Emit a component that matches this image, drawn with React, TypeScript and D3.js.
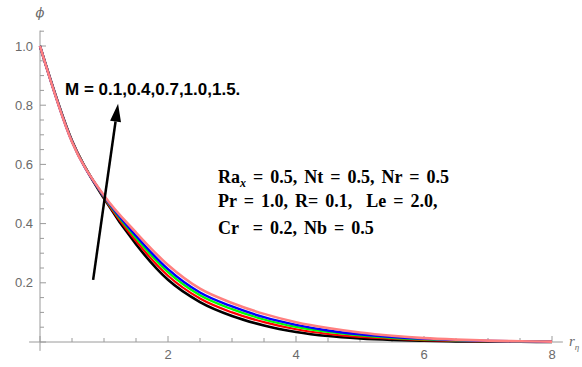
import * as d3 from 'd3';
import React, { useEffect, useRef } from 'react';

const xs = [0, 0.5, 1, 1.5, 2, 2.5, 3, 3.5, 4, 4.5, 5, 5.5, 6, 6.5, 7, 7.5, 8];

// phi profiles for M = 0.1, 0.4, 0.7, 1.0, 1.5
const phiM01 = [1, 0.68, 0.485, 0.33, 0.21, 0.135, 0.088, 0.056, 0.034, 0.02, 0.012, 0.007, 0.004, 0.0022, 0.0012, 0.0006, 0.0003];
const phiM04 = [1, 0.679, 0.488, 0.341, 0.224, 0.147, 0.1, 0.067, 0.043, 0.027, 0.017, 0.011, 0.0064, 0.0038, 0.0021, 0.0011, 0.0005];
const phiM07 = [1, 0.678, 0.49, 0.351, 0.236, 0.158, 0.111, 0.076, 0.051, 0.034, 0.022, 0.014, 0.0087, 0.0052, 0.0029, 0.0016, 0.0008];
const phiM10 = [1, 0.677, 0.492, 0.359, 0.246, 0.167, 0.12, 0.084, 0.058, 0.039, 0.026, 0.017, 0.0105, 0.0064, 0.0036, 0.002, 0.001];
const phiM15 = [1, 0.676, 0.495, 0.37, 0.26, 0.18, 0.132, 0.095, 0.067, 0.047, 0.032, 0.021, 0.013, 0.008, 0.0045, 0.0025, 0.0012];

const seriesList = [
    { values: phiM01, color: '#000000', width: 2.6 },
    { values: phiM04, color: '#ff0000', width: 2.2 },
    { values: phiM07, color: '#00ff00', width: 2.2 },
    { values: phiM10, color: '#0000ff', width: 2.4 },
    { values: phiM15, color: '#ff8080', width: 2.6 },
];

const xTicks = [2, 4, 6, 8];
const yTicks = [0.2, 0.4, 0.6, 0.8, 1.0];

// arrow annotation (data coords): tail -> head
const arrowFrom = [0.83, 0.21];
const arrowTo = [1.22, 0.805];

const paramLines = [
    ['Ra', 'x', ' = 0.5, Nt = 0.5, Nr = 0.5'],
    ['Pr = 1.0, R= 0.1,  Le = 2.0,', '', ''],
    ['Cr  = 0.2, Nb = 0.5', '', ''],
];

const W = 582;
const H = 367;

const App = () => {
    const ref = useRef(null);

    useEffect(() => {
        const svg = d3.select(ref.current);
        svg.selectAll('*').remove();

        const x = d3.scaleLinear().domain([0, 8]).range([40, 552]);
        const y = d3.scaleLinear().domain([0, 1]).range([342, 46]);
        const axisColor = '#9a9a9a';
        const labelColor = '#6a6a6a';

        // axes
        svg.append('line')
            .attr('x1', x(-0.17)).attr('x2', x(8.17))
            .attr('y1', y(0)).attr('y2', y(0))
            .attr('stroke', axisColor).attr('stroke-width', 1);
        svg.append('line')
            .attr('x1', x(0)).attr('x2', x(0))
            .attr('y1', y(1.052)).attr('y2', y(-0.03))
            .attr('stroke', axisColor).attr('stroke-width', 1);

        // x ticks (inward, up)
        d3.range(0, 8.01, 0.5).forEach((v) => {
            const major = Math.abs(v % 2) < 1e-6;
            svg.append('line')
                .attr('x1', x(v)).attr('x2', x(v))
                .attr('y1', y(0)).attr('y2', y(0) - (major ? 6 : 4))
                .attr('stroke', axisColor);
        });
        // y ticks (inward, right)
        d3.range(0, 1.051, 0.05).forEach((v) => {
            const major = Math.abs((v * 100) % 20) < 1e-4 || Math.abs((v * 100) % 20 - 20) < 1e-4;
            svg.append('line')
                .attr('x1', x(0)).attr('x2', x(0) + (major ? 6 : 4))
                .attr('y1', y(v)).attr('y2', y(v))
                .attr('stroke', axisColor);
        });

        svg.selectAll('.xlab')
            .data(xTicks)
            .enter().append('text')
            .attr('x', (d) => x(d))
            .attr('y', y(0) + 17)
            .attr('text-anchor', 'middle')
            .attr('font-family', 'Liberation Sans, Arial, sans-serif')
            .attr('font-size', 13)
            .attr('fill', labelColor)
            .text((d) => d);

        svg.selectAll('.ylab')
            .data(yTicks)
            .enter().append('text')
            .attr('x', x(0) - 7)
            .attr('y', (d) => y(d) + 4.5)
            .attr('text-anchor', 'end')
            .attr('font-family', 'Liberation Sans, Arial, sans-serif')
            .attr('font-size', 13)
            .attr('fill', labelColor)
            .text((d) => d.toFixed(1));

        // axis names
        svg.append('text')
            .attr('x', x(0)).attr('y', 17)
            .attr('text-anchor', 'middle')
            .attr('font-family', 'DejaVu Serif, serif')
            .attr('font-style', 'italic')
            .attr('font-size', 13)
            .attr('fill', labelColor)
            .text('ϕ');
        const rl = svg.append('text')
            .attr('x', 569).attr('y', 346)
            .attr('font-family', 'Liberation Serif, serif')
            .attr('font-style', 'italic')
            .attr('font-size', 15)
            .attr('fill', labelColor);
        rl.append('tspan').text('r');
        rl.append('tspan').attr('dy', 4).attr('font-size', 9).text('η');

        // curves
        const line = d3.line()
            .x((d) => x(d[0]))
            .y((d) => y(d[1]))
            .curve(d3.curveMonotoneX);
        seriesList.forEach((s) => {
            svg.append('path')
                .datum(xs.map((v, i) => [v, s.values[i]]))
                .attr('fill', 'none')
                .attr('stroke', s.color)
                .attr('stroke-width', s.width)
                .attr('d', line);
        });

        // arrow
        const x1 = x(arrowFrom[0]), y1 = y(arrowFrom[1]);
        const x2 = x(arrowTo[0]), y2 = y(arrowTo[1]);
        const ang = Math.atan2(y2 - y1, x2 - x1);
        const headLen = 18, headW = 5.5;
        const bx = x2 - headLen * Math.cos(ang), by = y2 - headLen * Math.sin(ang);
        svg.append('line')
            .attr('x1', x1).attr('y1', y1).attr('x2', bx).attr('y2', by)
            .attr('stroke', '#000').attr('stroke-width', 2.5);
        svg.append('path')
            .attr('d', `M${x2},${y2} L${bx + headW * Math.sin(ang)},${by - headW * Math.cos(ang)} L${bx - headW * Math.sin(ang)},${by + headW * Math.cos(ang)} Z`)
            .attr('fill', '#000');

        // M label
        svg.append('text')
            .attr('x', 65).attr('y', 95)
            .attr('font-family', 'Liberation Sans, Arial, sans-serif')
            .attr('font-weight', 'bold')
            .attr('font-size', 17)
            .attr('fill', '#000')
            .text('M = 0.1,0.4,0.7,1.0,1.5.');

        // parameter block
        const baselines = [183, 207, 234];
        paramLines.forEach((ln, i) => {
            const t = svg.append('text')
                .attr('x', 218).attr('y', baselines[i])
                .attr('font-family', 'Liberation Serif, Times New Roman, serif')
                .attr('font-weight', 'bold')
                .attr('font-size', 18)
                .attr('word-spacing', 2.5)
                .style('white-space', 'pre')
                .attr('fill', '#000');
            t.append('tspan').text(ln[0]);
            if (ln[1]) {
                t.append('tspan').attr('dy', 4).attr('font-size', 12).attr('font-style', 'italic').text(ln[1]);
                t.append('tspan').attr('dy', -4).text(ln[2]);
            }
        });
    }, []);

    return (
        <div>
            <svg ref={ref} width={W} height={H} style={{ position: 'absolute', left: 0, top: 0, background: '#fff' }}>
            </svg>
        </div>
    );
};

export default App;
